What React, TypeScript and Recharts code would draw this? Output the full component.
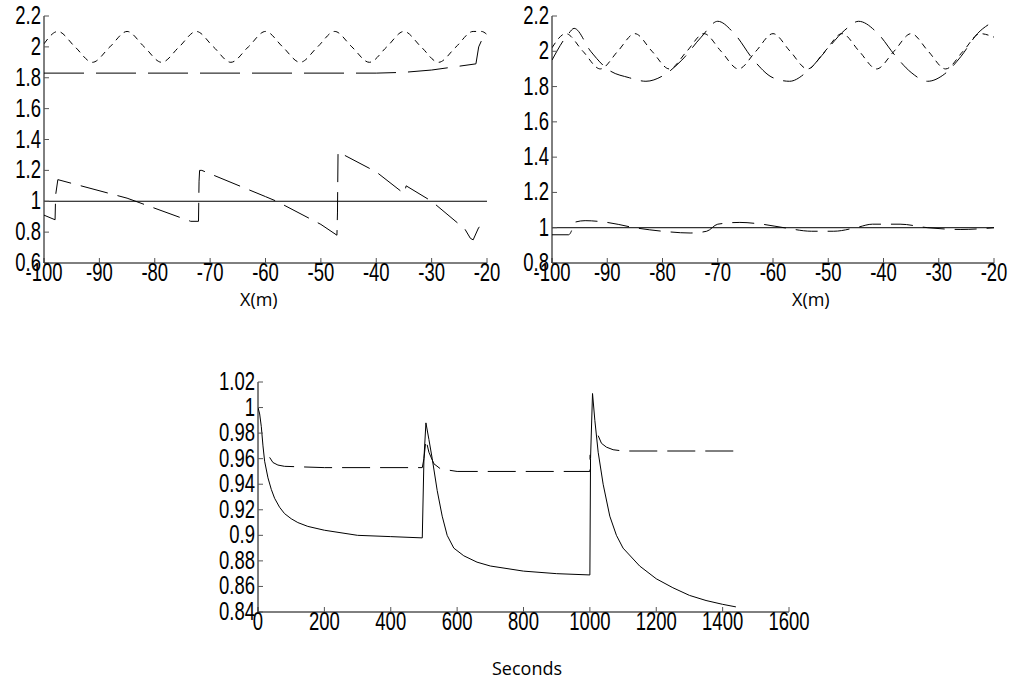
import React from "react";
import { LineChart, Line, XAxis, YAxis } from "recharts";

const xTicksTop = [-100, -90, -80, -70, -60, -50, -40, -30, -20];
const yTicksLeft = [0.6, 0.8, 1, 1.2, 1.4, 1.6, 1.8, 2, 2.2];
const yTicksRight = [0.8, 1, 1.2, 1.4, 1.6, 1.8, 2, 2.2];
const xTicksBottom = [0, 200, 400, 600, 800, 1000, 1200, 1400, 1600];
const yTicksBottom = [0.84, 0.86, 0.88, 0.9, 0.92, 0.94, 0.96, 0.98, 1, 1.02];

const shortWaveX = [-100, -97.5, -94.4, -91.25, -88.1, -85, -81.9, -78.75, -75.6, -72.5, -69.4, -66.25, -63.1, -60, -56.9, -53.75, -50.6, -47.5, -44.4, -41.25, -38.1, -35, -31.9, -28.75, -25.6, -22.5, -21, -20];
const shortWaveY = [2.02, 2.1, 2.0, 1.9, 2.0, 2.1, 2.0, 1.9, 2.0, 2.1, 2.0, 1.9, 2.0, 2.1, 2.0, 1.9, 2.0, 2.1, 2.0, 1.9, 2.0, 2.1, 2.0, 1.9, 2.0, 2.1, 2.1, 2.08];

const leftDashDotX = [-100, -40, -35, -30, -26, -22, -21.5, -20.5, -20];
const leftDashDotY = [1.83, 1.83, 1.835, 1.85, 1.87, 1.89, 2.0, 2.08, 2.1];

const sawX = [-100, -98, -97.9, -97.5, -85, -73.5, -72.1, -72, -71.9, -71.5, -60, -58, -50, -47.1, -47, -46.9, -40, -35, -34.8, -34.6, -30, -24, -23, -22.5, -21.5, -20];
const sawY = [0.91, 0.88, 1.04, 1.14, 1.02, 0.87, 0.87, 1.13, 1.2, 1.2, 1.03, 1.0, 0.85, 0.78, 0.93, 1.32, 1.19, 1.05, 1.07, 1.1, 1.0, 0.82, 0.76, 0.75, 0.83, 0.85];

const flatX = [-100, -20];
const flatY = [1, 1];

const rightShortX = [-100, -97.5, -94.4, -91.25, -88.1, -85, -81.9, -78.75, -75.6, -72.5, -69.4, -66.25, -63.1, -60, -56.9, -53.75, -50.6, -47.5, -44.4, -41.25, -38.1, -35, -31.9, -28.75, -25.6, -22.5, -20];
const rightShortY = [2.02, 2.1, 2.0, 1.9, 2.0, 2.1, 2.0, 1.9, 2.0, 2.1, 2.0, 1.9, 2.0, 2.1, 2.0, 1.9, 2.0, 2.1, 2.0, 1.9, 2.0, 2.1, 2.0, 1.9, 2.0, 2.1, 2.08];

const rightLongX = [-100, -97, -96, -93, -90, -86, -83, -80, -76.5, -73, -70, -67, -63.5, -60, -57, -54, -50.5, -47, -44.5, -41, -38, -35, -32, -29, -26, -23, -20];
const rightLongY = [1.95, 2.1, 2.13, 2.0, 1.9, 1.85, 1.83, 1.86, 1.95, 2.08, 2.17, 2.1, 1.95, 1.85, 1.83, 1.88, 2.0, 2.12, 2.17, 2.1, 1.98, 1.88, 1.83, 1.87, 1.97, 2.1, 2.17];

const rightLowX = [-100, -97, -96.5, -96, -94, -90, -85, -80, -75, -72, -70, -66, -62, -58, -53, -49, -45, -42, -37, -32, -26, -20];
const rightLowY = [0.96, 0.96, 0.98, 1.03, 1.04, 1.03, 1.0, 0.98, 0.97, 0.98, 1.02, 1.03, 1.02, 1.0, 0.98, 0.98, 1.0, 1.02, 1.02, 1.0, 0.99, 1.0];

const secSolidX = [0, 5, 10, 15, 20, 30, 40, 50, 65, 80, 100, 120, 150, 200, 300, 400, 495, 500, 506, 515, 525, 540, 555, 570, 590, 620, 660, 700, 800, 900, 1000, 1002, 1008, 1015, 1025, 1040, 1060, 1080, 1100, 1150, 1200, 1250, 1300, 1350, 1400, 1440];
const secSolidY = [1.0, 0.995, 0.985, 0.97, 0.958, 0.945, 0.936, 0.929, 0.922, 0.917, 0.913, 0.91, 0.907, 0.904, 0.9, 0.899, 0.898, 0.96, 0.988, 0.975, 0.96, 0.935, 0.915, 0.9, 0.89, 0.884, 0.879, 0.876, 0.872, 0.87, 0.869, 0.96, 1.011, 0.99, 0.965, 0.94, 0.915, 0.9, 0.89, 0.876, 0.866, 0.859, 0.853, 0.849, 0.846, 0.844];

const secDashX = [35, 45, 60, 80, 200, 495, 500, 506, 515, 530, 550, 600, 1000, 1000.5, 1010, 1025, 1035, 1050, 1070, 1100, 1440];
const secDashY: (number | null)[] = [0.961, 0.957, 0.955, 0.954, 0.953, 0.953, 0.96, 0.975, 0.965, 0.956, 0.952, 0.95, 0.95, 0.963, null, 0.978, 0.972, 0.969, 0.967, 0.966, 0.966];

const zip = (xs: number[], ys: (number | null)[]) => xs.map((x, i) => ({ x, y: ys[i] }));

const FONT = "'Liberation Sans', Arial, sans-serif";
const labelFont: React.CSSProperties = { position: "absolute", fontFamily: "'Open Sans', sans-serif", fontSize: 18, color: "#000" };

const XTick = (p: any) => (
  <text transform={`translate(${p.x},${p.y + 23}) scale(0.74,1)`} textAnchor="middle" fontSize={25} fontFamily={FONT} fill="#000">
    {p.payload.value}
  </text>
);
const YTick = (p: any) => (
  <text transform={`translate(${p.x - 8},${p.y + 8}) scale(0.74,1)`} textAnchor="end" fontSize={25} fontFamily={FONT} fill="#000">
    {p.payload.value}
  </text>
);

function Panel(props: {
  width: number; height: number; margin: any; yWidth: number;
  xDomain: [number, number]; yDomain: [number, number]; xTicks: number[]; yTicks: number[];
  series: { d: { x: number; y: number | null }[]; dash?: string; type?: "linear" | "monotone" }[];
}) {
  const { width, height, margin, yWidth, xDomain, yDomain, xTicks, yTicks, series } = props;
  return (
    <LineChart width={width} height={height} margin={margin}>
      <XAxis xAxisId="b" dataKey="x" type="number" domain={xDomain} ticks={xTicks} allowDataOverflow interval={0}
        tick={<XTick />} tickSize={-5} tickMargin={0} height={27} stroke="#000" tickLine={{ stroke: "#555" }} />
      <XAxis xAxisId="t" orientation="top" dataKey="x" type="number" domain={xDomain} ticks={xTicks}
        tick={false} tickSize={-5} height={0} stroke="#000" tickLine={{ stroke: "#555" }} />
      <YAxis yAxisId="l" type="number" domain={yDomain} ticks={yTicks} allowDataOverflow interval={0}
        tick={<YTick />} tickSize={-5} tickMargin={0} width={yWidth} stroke="#000" tickLine={{ stroke: "#555" }} />
      <YAxis yAxisId="r" orientation="right" type="number" domain={yDomain} ticks={yTicks}
        tick={false} tickSize={-5} width={0} stroke="#000" tickLine={{ stroke: "#555" }} />
      {series.map((s, i) => (
        <Line key={i} xAxisId="b" yAxisId="l" data={s.d} dataKey="y" type={s.type || "linear"} dot={false}
          stroke="#000" strokeWidth={1} strokeDasharray={s.dash} connectNulls={false} isAnimationActive={false} />
      ))}
    </LineChart>
  );
}

export default function App() {
  return (
    <div style={{ position: "absolute", left: 0, top: 0, width: 1013, height: 685, background: "#fff" }}>
      <div style={{ position: "absolute", left: 0, top: 0 }}>
        <Panel width={510} height={290} margin={{ top: 16, right: 23, left: 0, bottom: 0 }} yWidth={44}
          xDomain={[-100, -20]} yDomain={[0.6, 2.2]} xTicks={xTicksTop} yTicks={yTicksLeft}
          series={[
            { d: zip(shortWaveX, shortWaveY), dash: "6 5", type: "monotone" },
            { d: zip(leftDashDotX, leftDashDotY), dash: "40 12" },
            { d: zip(sawX, sawY), dash: "28 10" },
            { d: zip(flatX, flatY) },
          ]} />
      </div>
      <div style={{ position: "absolute", left: 508, top: 0 }}>
        <Panel width={505} height={290} margin={{ top: 16, right: 19, left: 0, bottom: 0 }} yWidth={44}
          xDomain={[-100, -20]} yDomain={[0.8, 2.2]} xTicks={xTicksTop} yTicks={yTicksRight}
          series={[
            { d: zip(rightShortX, rightShortY), dash: "6 5", type: "monotone" },
            { d: zip(rightLongX, rightLongY), dash: "22 10", type: "monotone" },
            { d: zip(rightLowX, rightLowY), dash: "22 10", type: "monotone" },
            { d: zip(flatX, flatY) },
          ]} />
      </div>
      <div style={{ position: "absolute", left: 190, top: 360 }}>
        <Panel width={630} height={279} margin={{ top: 22, right: 31, left: 0, bottom: 0 }} yWidth={68}
          xDomain={[0, 1600]} yDomain={[0.84, 1.02]} xTicks={xTicksBottom} yTicks={yTicksBottom}
          series={[
            { d: zip(secSolidX, secSolidY) },
            { d: zip(secDashX, secDashY), dash: "28 10" },
          ]} />
      </div>
      <div style={{ ...labelFont, left: 240, top: 287 }}>X(m)</div>
      <div style={{ ...labelFont, left: 792, top: 287 }}>X(m)</div>
      <div style={{ ...labelFont, left: 492, top: 656 }}>Seconds</div>
    </div>
  );
}
